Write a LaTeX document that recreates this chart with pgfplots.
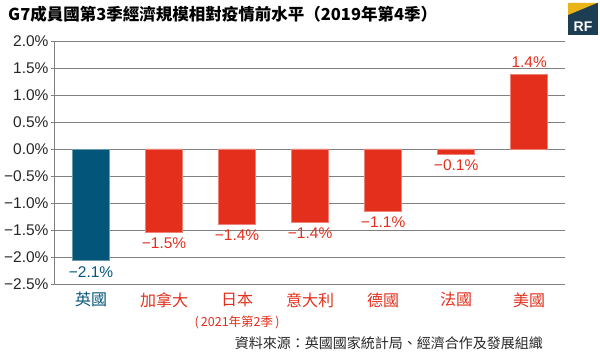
\documentclass[border=0pt]{standalone}
\usepackage{pgfplots}
\pgfplotsset{compat=1.18}
\usepackage{fontspec}
\setmainfont{Liberation Sans}
\newfontfamily\cjk{Noto Sans CJK TC}
\definecolor{ukblue}{HTML}{03557A}
\definecolor{barred}{HTML}{E32F1B}
\definecolor{gridgray}{HTML}{808080}
\definecolor{logonavy}{HTML}{1C3D52}
\definecolor{logoyellow}{HTML}{E8B418}
\begin{document}
\begin{tikzpicture}[x=1pt,y=1pt]
\useasboundingbox (0,0) rectangle (600,352);
\begin{axis}[
  at={(54pt,68pt)}, anchor=south west,
  scale only axis, width=511pt, height=243pt,
  xmin=-0.507, xmax=6.49, ymin=-2.5, ymax=2.0,
  ytick={-2.5,-2,-1.5,-1,-0.5,0,0.5,1,1.5,2},
  yticklabels={−2.5\%,−2.0\%,−1.5\%,−1.0\%,−0.5\%,0.0\%,0.5\%,1.0\%,1.5\%,2.0\%},
  xtick={0,1,2,3,4,5,6},
  xticklabels={\textcolor{ukblue}{英國},\textcolor{barred}{加拿大},\textcolor{barred}{日本},\textcolor{barred}{意大利},\textcolor{barred}{德國},\textcolor{barred}{法國},\textcolor{barred}{美國}},
  ymajorgrids, grid style={gridgray, line width=0.8pt},
  axis lines*=left, axis line style={gridgray, line width=0.8pt, -},
  x tick style={draw=none}, y tick style={gridgray, line width=0.8pt},
  tick align=outside, major tick length=3pt,
  yticklabel style={font=\fontsize{15.5}{15}\selectfont, text=black!85, xshift=1pt},
  xticklabel style={font=\cjk\fontsize{16}{16}\selectfont, yshift=-2pt},
  ybar, bar width=37pt,
  nodes near coords, point meta=explicit symbolic,
  clip=false,
]
\addplot[ybar, bar shift=0pt, fill=ukblue, draw=ukblue!60!white, line width=0.6pt,
  nodes near coords style={text=ukblue, anchor=north, yshift=-2pt, font=\fontsize{15.5}{15}\selectfont}]
  coordinates {(0,-2.07) [−2.1\%]};
\addplot[ybar, bar shift=0pt, fill=barred, draw=barred!60!white, line width=0.6pt,
  nodes near coords style={text=barred, anchor=north, yshift=-2pt, font=\fontsize{15.5}{15}\selectfont}]
  coordinates {
  (1,-1.54) [−1.5\%]
  (2,-1.40) [−1.4\%]
  (3,-1.36) [−1.4\%]
  (4,-1.15) [−1.1\%]
  (5,-0.09) [−0.1\%]
};
\addplot[ybar, bar shift=0pt, fill=barred, draw=barred!60!white, line width=0.6pt,
  nodes near coords style={text=barred, anchor=south, yshift=3pt, font=\fontsize{15.5}{15}\selectfont}]
  coordinates {(6,1.39) [1.4\%]};
\node[font=\cjk\fontsize{12.5}{13}\selectfont, text=barred] at (axis cs:2,-2.5) [yshift=-38pt] {(\,2021年第2季\,)};
\end{axis}
\node[anchor=west, font=\cjk\bfseries\fontsize{16.5}{18}\selectfont, inner sep=0pt] at (8,338) {G7成員國第3季經濟規模相對疫情前水平（2019年第4季）};
\node[anchor=east, font=\cjk\fontsize{14}{15}\selectfont, inner sep=0pt, text=black!85] at (543,9) {資料來源：英國國家統計局、經濟合作及發展組織};
\fill[logonavy] (568,317) rectangle (598,349);
\fill[logoyellow] (568,349) -- (597,349) -- (568,337) -- cycle;
\node[font=\bfseries\fontsize{14}{14}\selectfont, text=white, inner sep=0pt] at (583,325) {RF};
\end{tikzpicture}
\end{document}
